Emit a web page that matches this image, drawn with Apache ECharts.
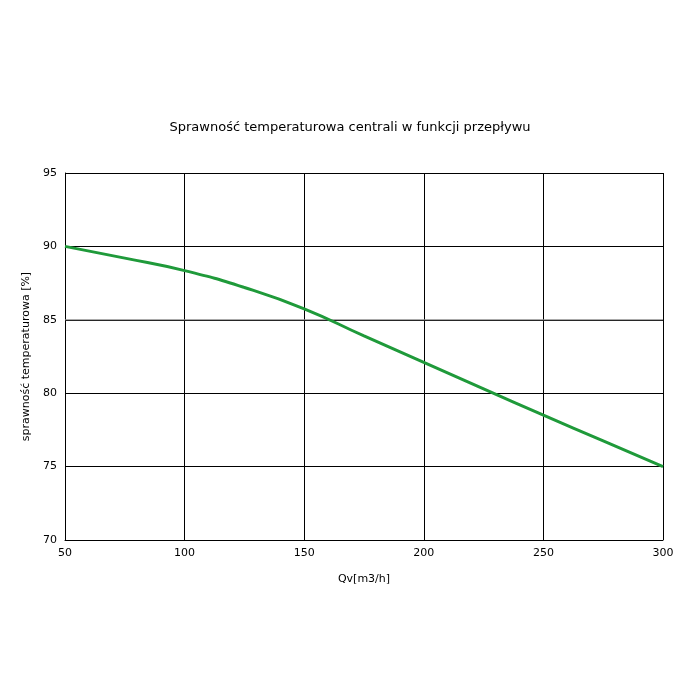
<!DOCTYPE html>
<html><head><meta charset="utf-8">
<script src="https://cdn.jsdelivr.net/npm/echarts@6/dist/echarts.min.js"></script>
<style>html,body{margin:0;padding:0;background:#fff}#c{width:700px;height:700px}</style>
</head><body><div id="c"></div>
<script>
const xValues=[50,75,100,125,150,175,200,225,250,275,300];
const yValues=[90,89.2,88.35,87.2,85.75,83.9,82.1,80.3,78.5,76.75,75];
const chart=echarts.init(document.getElementById('c'));
const f='DejaVu Sans';
chart.setOption({
 animation:false,
 title:{text:'Sprawność temperaturowa centrali w funkcji przepływu',left:'center',top:116,textStyle:{fontFamily:f,fontSize:13,fontWeight:'normal',color:'#000'}},
 grid:{left:65,right:37,top:173,bottom:160},
 xAxis:{type:'value',min:50,max:300,interval:50,name:'Qv[m3/h]',nameLocation:'middle',nameGap:34,
  nameTextStyle:{fontFamily:f,fontSize:11,color:'#000'},
  axisLine:{lineStyle:{color:'#000'}},axisTick:{show:false},
  axisLabel:{fontFamily:f,fontSize:11,color:'#000'},
  splitLine:{lineStyle:{color:'#000',width:1}}},
 yAxis:{type:'value',min:70,max:95,interval:5,name:'sprawność temperaturowa [%]',nameLocation:'middle',nameGap:32,
  nameTextStyle:{fontFamily:f,fontSize:11,color:'#000'},
  axisLine:{show:true,lineStyle:{color:'#000'}},axisTick:{show:false},
  axisLabel:{fontFamily:f,fontSize:11,color:'#000'},
  splitLine:{lineStyle:{color:'#000',width:1}}},
 series:[{type:'line',data:xValues.map((x,i)=>[x,yValues[i]]),smooth:true,showSymbol:false,
  lineStyle:{color:'#1f9a3a',width:3}},
  {type:'line',data:[[50,85],[300,85]],showSymbol:false,silent:true,lineStyle:{color:'#888',width:1},z:1}]
});
</script></body></html>
